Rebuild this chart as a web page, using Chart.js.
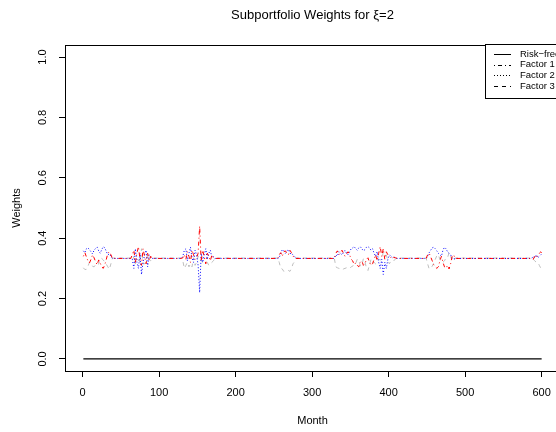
<!DOCTYPE html>
<html>
<head>
<meta charset="utf-8">
<script src="https://cdn.jsdelivr.net/npm/chart.js@4"></script>
<style>
  html, body { margin: 0; padding: 0; background: #fff; overflow: hidden; }
  #wrap { width: 556px; height: 432px; overflow: hidden; position: relative; }
  canvas { position: absolute; left: 0; top: 0; }
</style>
</head>
<body>
<div id="wrap"><canvas id="weightsChart" width="570" height="432"></canvas></div>
<script>
// months where the factor weights are sampled (flat stretches in between are joined straight)
const months = [
  1, 3, 5, 7, 9, 11, 13, 15, 17, 19, 21, 23, 25, 27, 29, 31, 33, 35, 37, 39,
  63, 65, 67, 69, 71, 73, 75, 77, 79, 81, 83, 85, 87, 89, 91,
  129, 131, 133, 135, 137, 139, 141, 143, 145, 147, 149, 151, 153, 155, 157, 159, 161, 163, 165, 167, 169, 171, 173,
  255, 257, 259, 261, 263, 265, 267, 269, 271, 273, 275, 277, 279,
  329, 331, 333, 335, 337, 339, 341, 343, 345, 347, 349, 351, 353, 355, 357, 359, 361, 363, 365, 367, 369,
  371, 373, 375, 377, 379, 381, 383, 385, 387, 389, 391, 393, 395, 397, 399, 401, 403, 405, 407, 409, 411,
  449, 451, 453, 455, 457, 459, 461, 463, 465, 467, 469, 471, 473, 475, 477, 479, 481, 483, 485, 487,
  587, 589, 591, 593, 595, 597, 599, 600
];

const factor1 = [
  .340, .352, .338, .325, .318, .330, .345, .335, .322, .312, .328, .318, .305, .300, .312, .330, .350, .355, .345, .333,
  .333, .345, .360, .320, .350, .372, .330, .310, .365, .340, .315, .350, .325, .340, .333,
  .333, .335, .345, .330, .355, .340, .320, .360, .345, .330, .335, .350, .440, .325, .360, .338, .315, .350, .340, .325, .345, .335, .333,
  .333, .345, .352, .340, .355, .358, .350, .345, .360, .352, .340, .338, .333,
  .333, .350, .358, .345, .352, .360, .350, .340, .348, .355, .345, .330, .325, .312, .318, .310, .305, .320, .325, .310, .315,
  .330, .335, .320, .310, .315, .330, .345, .325, .350, .372, .340, .365, .330, .355, .345, .340, .335, .338, .336, .335, .333,
  .333, .345, .350, .338, .325, .312, .305, .300, .305, .325, .340, .320, .305, .300, .310, .298, .315, .340, .345, .333,
  .333, .330, .340, .335, .345, .350, .355, .352
];

const factor2 = [
  .358, .352, .365, .368, .362, .355, .348, .360, .366, .370, .358, .350, .362, .372, .368, .356, .345, .348, .340, .333,
  .333, .330, .300, .365, .320, .300, .350, .280, .320, .345, .360, .305, .345, .335, .333,
  .333, .340, .360, .365, .325, .350, .370, .335, .320, .360, .345, .310, .220, .350, .320, .345, .365, .330, .350, .360, .335, .340, .333,
  .333, .335, .350, .362, .358, .350, .358, .362, .350, .348, .345, .340, .333,
  .333, .345, .340, .355, .350, .345, .352, .360, .350, .345, .355, .365, .368, .372, .365, .360, .368, .372, .365, .358, .362,
  .370, .372, .368, .360, .365, .350, .340, .355, .320, .300, .330, .280, .320, .300, .330, .345, .340, .335, .338, .334, .333,
  .333, .340, .352, .360, .368, .370, .365, .358, .350, .345, .340, .360, .370, .365, .355, .350, .345, .335, .330, .333,
  .333, .340, .335, .345, .335, .340, .345, .348
];

const factor3 = [
  .302, .296, .297, .307, .320, .315, .307, .305, .312, .318, .314, .332, .333, .328, .320, .314, .305, .297, .315, .334,
  .334, .325, .340, .315, .330, .328, .320, .365, .315, .315, .325, .345, .330, .325, .334,
  .334, .325, .300, .310, .320, .305, .315, .305, .335, .310, .320, .340, .340, .325, .320, .317, .320, .320, .310, .315, .320, .325, .334,
  .334, .320, .300, .298, .290, .292, .292, .293, .290, .300, .315, .322, .334,
  .334, .305, .302, .300, .298, .295, .298, .300, .302, .300, .300, .305, .307, .316, .317, .330, .327, .308, .310, .332, .323,
  .300, .293, .312, .330, .320, .320, .315, .320, .330, .328, .330, .355, .350, .345, .325, .315, .325, .327, .326, .331, .334,
  .334, .315, .298, .302, .307, .318, .330, .342, .345, .330, .320, .320, .325, .335, .335, .352, .340, .325, .325, .334,
  .334, .330, .325, .320, .320, .310, .300, .300
];

const riskFreeMonths = [1, 600];
const riskFree = [0, 0];

const xTicks = [0, 100, 200, 300, 400, 500, 600];
const yTicks = [0, 0.2, 0.4, 0.6, 0.8, 1.0];
const legendLabels = ['Risk\u2212free', 'Factor 1', 'Factor 2', 'Factor 3'];

const FONT = '"Liberation Sans", Arial, sans-serif';

function pts(xs, ys) {
  return xs.map((x, i) => ({ x: x, y: ys[i] }));
}

// Title, axis titles, y labels, box and legend in the R base-graphics look
const decorations = {
  id: 'decorations',
  afterDraw(chart) {
    const ctx = chart.ctx;
    const a = chart.chartArea;
    const y = chart.scales.y;
    ctx.save();

    // plot box
    ctx.strokeStyle = '#000';
    ctx.lineWidth = 1;
    ctx.setLineDash([]);
    ctx.strokeRect(Math.round(a.left) + 0.5, Math.round(a.top) + 0.5, a.right - a.left, a.bottom - a.top);

    ctx.fillStyle = '#000';
    ctx.textAlign = 'center';
    ctx.textBaseline = 'middle';

    // main title
    ctx.font = '13px ' + FONT;
    ctx.fillText('Subportfolio Weights for \u03BE=2', (a.left + a.right) / 2, 15);

    // x title
    ctx.font = '11px ' + FONT;
    ctx.fillText('Month', (a.left + a.right) / 2, 421);

    // y title and rotated tick labels
    ctx.save();
    ctx.translate(17, (a.top + a.bottom) / 2);
    ctx.rotate(-Math.PI / 2);
    ctx.fillText('Weights', 0, 0);
    ctx.restore();

    yTicks.forEach(v => {
      ctx.save();
      ctx.translate(43, y.getPixelForValue(v));
      ctx.rotate(-Math.PI / 2);
      ctx.fillText(v.toFixed(1), 0, 0);
      ctx.restore();
    });

    // legend
    const lx = 485.5, ly = 44.5, lw = 120, lh = 54;
    ctx.fillStyle = '#fff';
    ctx.fillRect(lx, ly, lw, lh);
    ctx.strokeStyle = '#000';
    ctx.strokeRect(lx, ly, lw, lh);
    const dashes = [[], [1, 3, 4, 3], [1, 2], [4, 4]];
    ctx.font = '9.5px ' + FONT;
    ctx.textAlign = 'left';
    legendLabels.forEach((lab, i) => {
      const ry = 54 + i * 10.7;
      ctx.beginPath();
      ctx.setLineDash(dashes[i]);
      ctx.moveTo(494, Math.round(ry) + 0.5);
      ctx.lineTo(511, Math.round(ry) + 0.5);
      ctx.stroke();
      ctx.setLineDash([]);
      ctx.fillStyle = '#000';
      ctx.fillText(lab, 520, ry);
    });

    ctx.restore();
  }
};

const ctx = document.getElementById('weightsChart');
new Chart(ctx, {
  type: 'line',
  data: {
    datasets: [
      {
        label: 'Risk-free',
        data: pts(riskFreeMonths, riskFree),
        borderColor: '#000000',
        borderWidth: 1.3
      },
      {
        label: 'Factor 1',
        data: pts(months, factor1),
        borderColor: '#ff0000',
        borderDash: [1, 3, 4, 3],
        borderWidth: 1
      },
      {
        label: 'Factor 2',
        data: pts(months, factor2),
        borderColor: '#0000ff',
        borderDash: [1, 2],
        borderWidth: 1
      },
      {
        label: 'Factor 3',
        data: pts(months, factor3),
        borderColor: '#bebebe',
        borderDash: [4, 4],
        borderWidth: 1
      }
    ]
  },
  options: {
    responsive: false,
    animation: false,
    devicePixelRatio: 1,
    layout: { padding: { top: 45, right: 10, left: 0, bottom: 0 } },
    elements: {
      point: { radius: 0 },
      line: { tension: 0 }
    },
    plugins: {
      legend: { display: false },
      title: { display: false },
      tooltip: { enabled: false }
    },
    scales: {
      x: {
        type: 'linear',
        min: -23,
        max: 624,
        afterBuildTicks: s => { s.ticks = xTicks.map(v => ({ value: v })); },
        afterFit: s => { s.height = 61; },
        grid: { drawOnChartArea: false, drawTicks: true, tickLength: 6, color: '#000' },
        border: { display: true, color: '#000' },
        ticks: {
          color: '#000',
          font: { family: FONT, size: 11 },
          padding: 9,
          maxRotation: 0,
          autoSkip: false
        }
      },
      y: {
        type: 'linear',
        min: -0.04,
        max: 1.04,
        afterBuildTicks: s => { s.ticks = yTicks.map(v => ({ value: v })); },
        afterFit: s => { s.width = 65; },
        grid: { drawOnChartArea: false, drawTicks: true, tickLength: 6, color: '#000' },
        border: { display: true, color: '#000' },
        ticks: { display: false }
      }
    }
  },
  plugins: [decorations]
});
</script>
</body>
</html>
